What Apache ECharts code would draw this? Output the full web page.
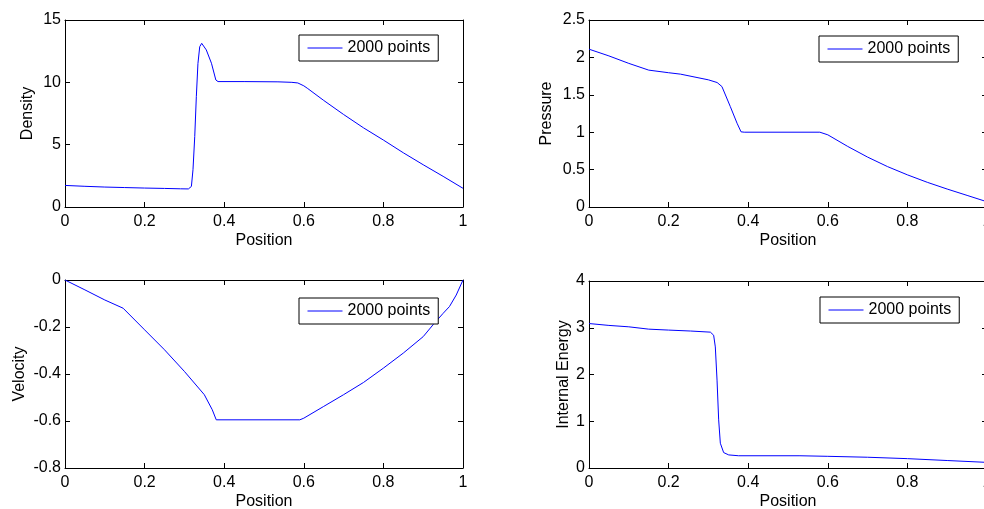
<!DOCTYPE html>
<html>
<head>
<meta charset="utf-8">
<script src="https://cdn.jsdelivr.net/npm/echarts@6/dist/echarts.min.js"></script>
<style>
  html, body { margin: 0; padding: 0; background: #fff; }
  #chart { width: 984px; height: 509px; }
</style>
</head>
<body>
<div id="chart"></div>
<script>
// valores (posición x, magnitud y)
const densPos = [0, 0.05, 0.1, 0.15, 0.2, 0.25, 0.29, 0.31, 0.3176, 0.3216, 0.326, 0.330, 0.334, 0.3385, 0.3435,
                 0.355, 0.368, 0.379, 0.3845, 0.45, 0.535, 0.57, 0.585, 0.6, 0.61, 0.65, 0.7, 0.75, 0.8, 0.85, 0.9, 0.95, 1.0];
const dens = [1.73, 1.66, 1.6, 1.56, 1.52, 1.49, 1.46, 1.45, 1.65, 2.99, 5.65, 8.85, 11.5, 12.86, 13.13,
              12.6, 11.53, 10.19, 10.06, 10.06, 10.04, 10.0, 9.95, 9.72, 9.5, 8.55, 7.42, 6.35, 5.37, 4.35, 3.39, 2.46, 1.5];

const presPos = [0, 0.05, 0.1, 0.15, 0.2, 0.23, 0.3, 0.322, 0.334, 0.355, 0.372, 0.382, 0.39,
                 0.58, 0.6, 0.65, 0.7, 0.75, 0.8, 0.85, 0.9, 0.95, 1.0];
const pres = [2.11, 2.02, 1.92, 1.83, 1.795, 1.776, 1.70, 1.664, 1.61, 1.343, 1.12, 1.005, 1.0,
              1.0, 0.965, 0.81, 0.667, 0.54, 0.43, 0.33, 0.24, 0.155, 0.07];

const velPos = [0, 0.05, 0.1, 0.146, 0.2, 0.25, 0.3, 0.35, 0.37, 0.38, 0.59, 0.6, 0.65, 0.7, 0.75,
                0.8, 0.85, 0.9, 0.925, 0.95, 0.966, 0.983, 1.0];
const vel = [0, -0.042, -0.085, -0.12, -0.212, -0.297, -0.389, -0.488, -0.552, -0.595, -0.595, -0.588, -0.538, -0.488, -0.436,
             -0.375, -0.311, -0.241, -0.19, -0.142, -0.113, -0.064, 0];

const enerPos = [0, 0.05, 0.1, 0.15, 0.2, 0.255, 0.305, 0.3132, 0.3174, 0.3217, 0.3258, 0.330, 0.3383, 0.351, 0.376,
                 0.53, 0.6, 0.7, 0.8, 0.9, 1.0];
const ener = [3.09, 3.05, 3.02, 2.97, 2.95, 2.93, 2.906, 2.84, 2.59, 1.88, 1.03, 0.53, 0.33, 0.28, 0.262,
              0.262, 0.25, 0.23, 0.2, 0.16, 0.12];

const ETIQUETA_SERIE = '2000 points';
const ETIQUETA_X = 'Position';

const FUENTE = '"Liberation Sans", Arial, sans-serif';
const AZUL = '#0000ff', NEGRO = '#000';

// disposición de los cuatro paneles
const PANELES = [
  { x: densPos, y: dens, nombre: 'Density', min: 0, max: 15, paso: 5,
    grid: { left: 65, top: 20, width: 398, height: 187 }, gap: 29, leyenda: { left: 299, top: 35 } },
  { x: presPos, y: pres, nombre: 'Pressure', min: 0, max: 2.5, paso: 0.5,
    grid: { left: 589, top: 20, width: 398, height: 187 }, gap: 34, leyenda: { left: 819, top: 36 } },
  { x: velPos, y: vel, nombre: 'Velocity', min: -0.8, max: 0, paso: 0.2,
    grid: { left: 65, top: 280, width: 398, height: 188 }, gap: 37, leyenda: { left: 299, top: 298 } },
  { x: enerPos, y: ener, nombre: 'Internal Energy', min: 0, max: 4, paso: 1,
    grid: { left: 589, top: 281, width: 398, height: 187 }, gap: 17, leyenda: { left: 820, top: 297 } }
];

const TEXTO = { color: NEGRO, fontSize: 16, fontFamily: FUENTE };
const LINEA = { lineStyle: { color: NEGRO, width: 1 }, onZero: false };
const MARCA = { show: true, inside: true, length: 5, lineStyle: { color: NEGRO, width: 1 } };

const grids = [], xAxes = [], yAxes = [], series = [], legends = [];

PANELES.forEach(function (p, i) {
  grids.push(Object.assign({ outerBoundsMode: 'none', containLabel: false }, p.grid));

  // eje inferior con etiquetas y eje superior solo con marcas
  xAxes.push({
    type: 'value', gridIndex: i, position: 'bottom', min: 0, max: 1, interval: 0.2,
    axisLine: LINEA, axisTick: MARCA, splitLine: { show: false },
    axisLabel: Object.assign({ margin: 7 }, TEXTO),
    name: ETIQUETA_X, nameLocation: 'middle', nameGap: 26, nameTextStyle: TEXTO
  });
  xAxes.push({
    type: 'value', gridIndex: i, position: 'top', min: 0, max: 1, interval: 0.2,
    axisLine: LINEA, axisTick: MARCA, splitLine: { show: false }, axisLabel: { show: false }
  });

  yAxes.push({
    type: 'value', gridIndex: i, position: 'left', min: p.min, max: p.max, interval: p.paso,
    axisLine: LINEA, axisTick: MARCA, splitLine: { show: false },
    axisLabel: Object.assign({ margin: 4 }, TEXTO),
    name: p.nombre, nameLocation: 'middle', nameGap: p.gap, nameTextStyle: TEXTO
  });
  yAxes.push({
    type: 'value', gridIndex: i, position: 'right', min: p.min, max: p.max, interval: p.paso,
    axisLine: LINEA, axisTick: MARCA, splitLine: { show: false }, axisLabel: { show: false }
  });

  series.push({
    type: 'line', name: ETIQUETA_SERIE, xAxisIndex: 2 * i, yAxisIndex: 2 * i,
    data: p.x.map(function (v, k) { return [v, p.y[k]]; }),
    symbol: 'none', showSymbol: false, smooth: false,
    lineStyle: { color: AZUL, width: 1 }, itemStyle: { color: AZUL }
  });

  // la leyenda solo muestra la línea: el símbolo queda transparente
  legends.push({
    data: [ETIQUETA_SERIE], left: p.leyenda.left, top: p.leyenda.top,
    orient: 'horizontal', selectedMode: false,
    backgroundColor: '#fff', borderColor: NEGRO, borderWidth: 1, borderRadius: 0,
    padding: [5, 8, 5, 8], itemWidth: 35, itemHeight: 14, itemGap: 0,
    itemStyle: { opacity: 0, borderWidth: 0 },
    lineStyle: { color: AZUL, width: 1 },
    textStyle: TEXTO
  });
});

const chart = echarts.init(document.getElementById('chart'), null, { renderer: 'canvas' });
chart.setOption({
  backgroundColor: '#fff',
  animation: false,
  grid: grids,
  xAxis: xAxes,
  yAxis: yAxes,
  legend: legends,
  series: series
});
</script>
</body>
</html>
